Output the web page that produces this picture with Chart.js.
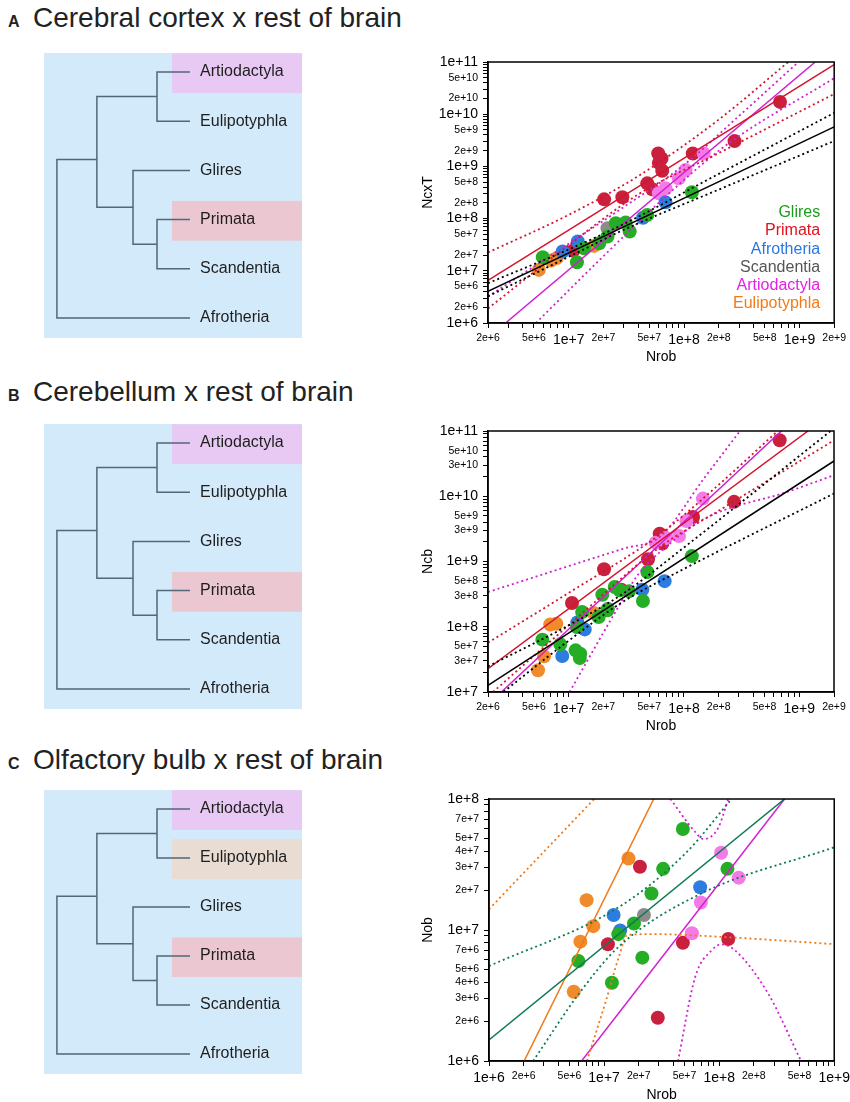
<!DOCTYPE html>
<html>
<head>
<meta charset="utf-8">
<script src="https://cdn.jsdelivr.net/npm/chart.js@4.4.1/dist/chart.umd.min.js"></script>
<style>
  html, body { margin: 0; background: #fff; }
  body { width: 850px; height: 1102px; position: relative; overflow: hidden;
         font-family: "Liberation Sans", Arial, sans-serif; color: #222; }
  .title { position: absolute; left: 8px; font-size: 28px; line-height: 34px; white-space: nowrap; }
  .title b { display: inline-block; width: 25px; font-size: 16px; }
  canvas { position: absolute; }
</style>
</head>
<body>
<div class="title" style="top:1px"><b>A</b>Cerebral cortex x rest of brain</div>
<div class="title" style="top:375px"><b>B</b>Cerebellum x rest of brain</div>
<div class="title" style="top:743px"><b>C</b>Olfactory bulb x rest of brain</div>

<canvas id="treeA" width="258" height="285" style="left:44px;top:53px"></canvas>
<canvas id="treeB" width="258" height="285" style="left:44px;top:424px"></canvas>
<canvas id="treeC" width="258" height="284" style="left:44px;top:790px"></canvas>
<canvas id="plotA" width="430" height="330" style="left:420px;top:40px"></canvas>
<canvas id="plotB" width="430" height="330" style="left:420px;top:409px"></canvas>
<canvas id="plotC" width="434" height="331" style="left:420px;top:777px"></canvas>

<script>
// ---- tree ----
const leaves = ["Artiodactyla", "Eulipotyphla", "Glires", "Primata", "Scandentia", "Afrotheria"];
// branch paths as [depth, row]
const treeBranches = [
  [[56.6, 0], [43.8, 0], [43.8, 1], [56.6, 1]],
  [[56.6, 3], [43.8, 3], [43.8, 4], [56.6, 4]],
  [[56.6, 2], [34.5, 2], [34.5, 3.5], [43.8, 3.5]],
  [[43.8, 0.5], [20.5, 0.5], [20.5, 2.75], [34.5, 2.75]],
  [[20.5, 1.78], [5.0, 1.78], [5.0, 5], [56.6, 5]],
];
const highlightsA = ["Artiodactyla", "Primata"];
const highlightsB = ["Artiodactyla", "Primata"];
const highlightsC = ["Artiodactyla", "Eulipotyphla", "Primata"];

// ---- tick labels ----
const xLabelsAB = [2e6, 5e6, 1e7, 2e7, 5e7, 1e8, 2e8, 5e8, 1e9, 2e9];
const yLabelsA = [1e6, 2e6, 5e6, 1e7, 2e7, 5e7, 1e8, 2e8, 5e8, 1e9, 2e9, 5e9, 1e10, 2e10, 5e10, 1e11];
const yLabelsB = [1e7, 3e7, 5e7, 1e8, 3e8, 5e8, 1e9, 3e9, 5e9, 1e10, 3e10, 5e10, 1e11];
const xLabelsC = [1e6, 2e6, 5e6, 1e7, 2e7, 5e7, 1e8, 2e8, 5e8, 1e9];
const yLabelsC = [1e6, 2e6, 3e6, 4e6, 5e6, 7e6, 1e7, 2e7, 3e7, 4e7, 5e7, 7e7, 1e8];

const taxa = ["Glires", "Primata", "Afrotheria", "Scandentia", "Artiodactyla", "Eulipotyphla"];

// ---- A: cerebral cortex (Nrob, NcxT) ----
const cortexGlires = [[5.97e6,1.82e7],[1.18e7,1.46e7],[1.36e7,2.71e7],[1.84e7,3.38e7],[2.17e7,4.53e7],[2.56e7,8.14e7],[3.12e7,8.4e7],[3.38e7,5.65e7],[4.8e7,1.17e8],[1.17e8,3.19e8]];
const cortexPrimata = [[1.10e7,2.45e7],[2.03e7,2.34e8],[2.92e7,2.56e8],[4.8e7,4.73e8],[5.3e7,3.64e8],[5.97e7,1.77e9],[6.38e7,1.42e9],[6.05e7,1.17e9],[6.47e7,8.26e8],[1.19e8,1.77e9],[2.74e8,3.05e9],[6.79e8,1.72e10]];
const cortexAfrotheria = [[8.87e6,2.34e7],[1.20e7,3.64e7],[4.41e7,1.04e8],[6.91e7,2.05e8]];
const cortexScandentia = [[2.17e7,6.54e7]];
const cortexArtiodactyla = [[6.05e7,3.05e8],[6.91e7,3.8e8],[9.0e7,5.9e8],[1.03e8,8.5e8],[1.48e8,1.77e9]];
const cortexEulipotyphla = [[5.51e6,1.04e7],[7.04e6,1.57e7],[7.87e6,1.75e7],[1.66e7,3.0e7]];

const cortexAllFit = [[2e6,4.03e6],[2e9,5.73e9]];
const cortexAllHi = [[2e6,5.8e6],[1e7,2.56e7],[3e7,7.85e7],[2e8,7.2e8],[2e9,1.06e10]];
const cortexAllLo = [[2e6,3.24e6],[1e7,1.85e7],[3e7,6.1e7],[2e8,3.6e8],[2e9,3.07e9]];
const cortexPrimFit = [[2e6,6.53e6],[2e9,8.9e10]];
const cortexPrimHi = [[2e6,2.24e7],[1e7,1.18e8],[4e7,6.5e8],[2e8,7.9e9],[8e8,1e11]];
const cortexPrimLo = [[2e6,1.9e6],[1e7,3.1e7],[4e7,2.9e8],[2e8,1.8e9],[2e9,2.44e10]];
const cortexArtFit = [[2.84e6,1e6],[1.37e9,1e11]];
const cortexArtHi = [[2e6,3.2e6],[2.75e7,1.46e8],[1e8,1.07e9],[3e8,9.3e9],[9.8e8,1e11]];
const cortexArtLo = [[5.2e6,1e6],[2e7,1.9e7],[8e7,3.55e8],[2.44e8,2.77e9],[2e9,4.9e10]];

// ---- B: cerebellum (Nrob, Ncb) ----
const cbGlires = [[5.92e6,6.34e7],[8.47e6,5.37e7],[1.15e7,4.35e7],[1.26e7,3.87e7],[1.25e7,3.32e7],[1.18e7,9.9e7],[1.31e7,1.68e8],[1.82e7,1.41e8],[1.96e7,3.1e8],[2.17e7,1.79e8],[2.51e7,4.07e8],[2.77e7,3.61e8],[3.34e7,3.49e8],[4.41e7,2.48e8],[4.82e7,6.9e8],[1.17e8,1.21e9]];
const cbPrimata = [[1.07e7,2.31e8],[2.03e7,7.6e8],[2.86e7,3.7e8],[4.88e7,1.08e9],[6.16e7,2.67e9],[6.58e7,2.43e9],[6.5e7,1.88e9],[1.2e8,4.8e9],[2.72e8,8.2e9],[6.76e8,7.2e10]];
const cbAfrotheria = [[8.81e6,3.56e7],[1.19e7,1.16e8],[1.38e7,9.1e7],[4.36e7,3.7e8],[6.8e7,5.0e8]];
const cbScandentia = [[2.19e7,1.89e8]];
const cbArtiodactyla = [[5.69e7,1.94e9],[6.95e7,2.29e9],[9.06e7,2.46e9],[1.05e8,4.18e9],[1.46e8,9.2e9]];
const cbEulipotyphla = [[5.43e6,2.15e7],[6.12e6,3.52e7],[6.93e6,1.08e8],[7.82e6,1.11e8],[1.65e7,1.63e8]];

const cbAllFit = [[2e6,1.26e7],[2e9,3.47e10]];
const cbAllHi = [[2e6,2.47e7],[1e7,1.05e8],[3e7,3.26e8],[1e8,1.64e9],[2e9,1.1e11]];
const cbAllLo = [[2e6,6.5e6],[1e7,6.1e7],[3e7,2.45e8],[1e8,7.7e8],[2e9,1.1e10]];
const cbPrimFit = [[2e6,2.28e7],[1.19e9,1e11]];
const cbPrimHi = [[2e6,5.7e7],[1e7,3.3e8],[6e7,2.5e9],[2e8,1.5e10],[6.5e8,1e11]];
const cbPrimLo = [[2.21e6,1e7],[1e7,1.05e8],[6e7,1.6e9],[2e8,6e9],[2e9,7.2e10]];
const cbArtFit = [[2.61e6,1e7],[7.0e8,1e11]];
const cbArtHi = [[2e6,3.4e8],[1e7,8.5e8],[3e7,1.58e9],[6.2e7,2.4e9],[1.5e8,1.9e10],[3.06e8,1e11]];
const cbArtLo = [[1.02e7,1e7],[2.5e7,1.6e8],[4e7,6.3e8],[6.5e7,1.5e9],[1.5e8,4.5e9],[7.8e8,1.16e10],[2e9,2.1e10]];

// ---- C: olfactory bulb (Nrob, Nob) ----
const obGlires = [[5.98e6,5.8e6],[1.17e7,3.96e6],[1.33e7,9.3e6],[1.82e7,1.12e7],[2.15e7,6.15e6],[2.58e7,1.9e7],[3.26e7,2.93e7],[4.84e7,5.9e7],[1.18e8,2.93e7]];
const obPrimata = [[1.08e7,7.78e6],[2.05e7,3.04e7],[2.93e7,2.14e6],[4.84e7,8.0e6],[1.2e8,8.53e6]];
const obAfrotheria = [[1.21e7,1.3e7],[1.38e7,9.9e6],[6.84e7,2.12e7]];
const obScandentia = [[2.22e7,1.3e7]];
const obArtiodactyla = [[5.8e7,9.44e6],[6.93e7,1.62e7],[1.04e8,3.89e7],[1.48e8,2.51e7]];
const obEulipotyphla = [[5.45e6,3.38e6],[6.22e6,8.15e6],[7.05e6,1.69e7],[8.05e6,1.07e7],[1.63e7,3.51e7]];

const obAllFit = [[1e6,1.45e6],[3.7e8,1e8]];
const obAllHi = [[1e6,5.3e6],[1.35e7,1.5e7],[5.1e7,3.85e7],[1.28e8,1e8]];
const obAllLo = [[2.42e6,1e6],[6.1e6,3.3e6],[1.35e7,7.5e6],[7e7,1.9e7],[1e9,4.28e7]];
const obEuliFit = [[2.02e6,1e6],[2.7e7,1e8]];
const obEuliHi = [[1e6,1.44e7],[8.2e6,1e8]];
const obEuliLo = [[7.1e6,1e6],[1.04e7,2.9e6],[1.35e7,6.3e6],[1.59e7,9.16e6],[2.62e7,9.3e6],[1.2e8,8.8e6],[1e9,7.8e6]];
const obArtFit = [[6.38e6,1e6],[3.7e8,1e8]];
const obArtTop = [[3.77e7,1e8],[6.2e7,5.6e7],[7.3e7,4.95e7],[9.8e7,6.0e7],[1.2e8,1e8]];
const obArtBottom = [[4.39e7,1e6],[6.2e7,4.4e6],[8.6e7,7.0e6],[1.05e8,7.78e6],[1.37e8,7.0e6],[2.65e8,3.3e6],[5.15e8,1e6]];

// ---- styles ----
const FONT = '"Liberation Sans", Arial, sans-serif';
Chart.defaults.font.family = FONT;
Chart.defaults.color = "#000";

const pointColors = {
  Glires: "#25ad25", Primata: "#c9213d", Afrotheria: "#2d7ddf",
  Scandentia: "#8c8c8c", Artiodactyla: "#f47ae8", Eulipotyphla: "#f08a2a",
};
const legendColors = {
  Glires: "#1c9c1c", Primata: "#e3101e", Afrotheria: "#2878e2",
  Scandentia: "#555555", Artiodactyla: "#e61ee6", Eulipotyphla: "#f47a18",
};
const RED = "#d5142c", MAGENTA = "#d21fd2", BLACK = "#000", GREEN = "#0b7a55", ORANGE = "#f07814";

const xy = (arr) => arr.map(([x, y]) => ({ x, y }));

function pointSets(series) {
  return series.map(([name, arr]) => ({
    label: name,
    data: xy(arr),
    backgroundColor: pointColors[name],
    pointRadius: 7,
    pointHoverRadius: 7,
    pointBorderWidth: 0,
    showLine: false,
    order: 2,
  }));
}

function lineSet(arr, color, dotted, curved) {
  return {
    data: xy(arr),
    showLine: true,
    borderColor: color,
    borderWidth: dotted ? 1.8 : 1.5,
    borderDash: dotted ? [2, 3] : [],
    pointRadius: 0,
    cubicInterpolationMode: curved ? "monotone" : "default",
    fill: false,
    order: 1,
  };
}

function isPow10(v) {
  const l = Math.log10(v);
  return Math.abs(l - Math.round(l)) < 1e-6;
}
function inList(v, list) {
  return list.some((t) => Math.abs(t - v) / t < 1e-6);
}
function allLogTicks(min, max) {
  const out = [];
  for (let k = Math.floor(Math.log10(min)); k <= Math.ceil(Math.log10(max)); k++) {
    for (let d = 1; d <= 9; d++) {
      const v = d * Math.pow(10, k);
      if (v >= min * 0.9999 && v <= max * 1.0001) out.push(v);
    }
  }
  return out;
}

function logAxis(min, max, labels, title, horizontal, size) {
  return {
    type: "logarithmic",
    min, max,
    afterBuildTicks: (s) => { s.ticks = allLogTicks(min, max).map((v) => ({ value: v })); },
    afterFit: (s) => { if (horizontal) s.height = size; else s.width = size; },
    ticks: {
      autoSkip: false, maxRotation: 0, minRotation: 0,
      padding: horizontal ? 4 : 5,
      color: "#000",
      callback: (v) => (inList(v, labels) ? Number(v).toExponential(0) : ""),
      font: (c) => ({ size: c.tick && isPow10(c.tick.value) ? 14 : 10.5, family: FONT }),
    },
    grid: { drawOnChartArea: false, drawTicks: true, tickLength: 5, color: "#000", lineWidth: 1 },
    border: { display: true, color: "#000", width: 1.5 },
    title: {
      display: true, text: title, color: "#000",
      font: { size: 14, family: FONT },
      padding: horizontal ? { top: 0, bottom: 4 } : { top: 0, bottom: 0 },
    },
  };
}

const framePlugin = {
  id: "frame",
  afterDraw(chart) {
    const { ctx, chartArea: a } = chart;
    ctx.save();
    ctx.strokeStyle = "#000";
    ctx.lineWidth = 1.5;
    ctx.strokeRect(a.left, a.top, a.right - a.left, a.bottom - a.top);
    ctx.restore();
  },
};

const legendPlugin = {
  id: "taxonLegend",
  afterDatasetsDraw(chart, args, opts) {
    if (!opts.items || !opts.items.length) return;
    const { ctx, chartArea: a } = chart;
    ctx.save();
    ctx.font = "16px " + FONT;
    ctx.textAlign = "right";
    ctx.textBaseline = "middle";
    const n = opts.items.length;
    opts.items.forEach((name, i) => {
      ctx.fillStyle = legendColors[name];
      ctx.fillText(name, a.right - 14, a.bottom - 19 - (n - 1 - i) * 18.3);
    });
    ctx.restore();
  },
};

function makePlot(id, cfg) {
  new Chart(document.getElementById(id), {
    type: "scatter",
    data: { datasets: [...cfg.lines, ...pointSets(cfg.series)] },
    options: {
      responsive: false,
      animation: false,
      events: [],
      layout: { padding: { top: 22, right: cfg.rightPad, left: 0, bottom: 0 } },
      scales: {
        x: logAxis(cfg.xMin, cfg.xMax, cfg.xLabels, "Nrob", true, 47),
        y: logAxis(cfg.yMin, cfg.yMax, cfg.yLabels, cfg.yTitle, false, cfg.yAxisWidth),
      },
      plugins: {
        legend: { display: false },
        tooltip: { enabled: false },
        taxonLegend: { items: cfg.legend || [] },
      },
    },
    plugins: [framePlugin, legendPlugin],
  });
}

makePlot("plotA", {
  xMin: 2e6, xMax: 2e9, yMin: 1e6, yMax: 1e11,
  xLabels: xLabelsAB, yLabels: yLabelsA, yTitle: "NcxT",
  rightPad: 14, yAxisWidth: 68, legend: taxa,
  series: [["Glires", cortexGlires], ["Afrotheria", cortexAfrotheria], ["Scandentia", cortexScandentia],
           ["Eulipotyphla", cortexEulipotyphla], ["Artiodactyla", cortexArtiodactyla], ["Primata", cortexPrimata]],
  lines: [
    lineSet(cortexAllFit, BLACK, false), lineSet(cortexAllHi, BLACK, true, true), lineSet(cortexAllLo, BLACK, true, true),
    lineSet(cortexPrimFit, RED, false), lineSet(cortexPrimHi, RED, true, true), lineSet(cortexPrimLo, RED, true, true),
    lineSet(cortexArtFit, MAGENTA, false), lineSet(cortexArtHi, MAGENTA, true, true), lineSet(cortexArtLo, MAGENTA, true, true),
  ],
});

makePlot("plotB", {
  xMin: 2e6, xMax: 2e9, yMin: 1e7, yMax: 1e11,
  xLabels: xLabelsAB, yLabels: yLabelsB, yTitle: "Ncb",
  rightPad: 16, yAxisWidth: 68,
  series: [["Glires", cbGlires], ["Afrotheria", cbAfrotheria], ["Scandentia", cbScandentia],
           ["Eulipotyphla", cbEulipotyphla], ["Artiodactyla", cbArtiodactyla], ["Primata", cbPrimata]],
  lines: [
    lineSet(cbAllFit, BLACK, false), lineSet(cbAllHi, BLACK, true, true), lineSet(cbAllLo, BLACK, true, true),
    lineSet(cbPrimFit, RED, false), lineSet(cbPrimHi, RED, true, true), lineSet(cbPrimLo, RED, true, true),
    lineSet(cbArtFit, MAGENTA, false), lineSet(cbArtHi, MAGENTA, true, true), lineSet(cbArtLo, MAGENTA, true, true),
  ],
});

makePlot("plotC", {
  xMin: 1e6, xMax: 1e9, yMin: 1e6, yMax: 1e8,
  xLabels: xLabelsC, yLabels: yLabelsC, yTitle: "Nob",
  rightPad: 17, yAxisWidth: 69,
  series: [["Glires", obGlires], ["Afrotheria", obAfrotheria], ["Scandentia", obScandentia],
           ["Eulipotyphla", obEulipotyphla], ["Artiodactyla", obArtiodactyla], ["Primata", obPrimata]],
  lines: [
    lineSet(obAllFit, GREEN, false), lineSet(obAllHi, GREEN, true, true), lineSet(obAllLo, GREEN, true, true),
    lineSet(obEuliFit, ORANGE, false), lineSet(obEuliHi, ORANGE, true, true), lineSet(obEuliLo, ORANGE, true, true),
    lineSet(obArtFit, MAGENTA, false), lineSet(obArtTop, MAGENTA, true, true), lineSet(obArtBottom, MAGENTA, true, true),
  ],
});

// ---- trees ----
const highlightColors = { Artiodactyla: "#e8c9f3", Primata: "#ebc8d1", Eulipotyphla: "#e8dcd3" };

const treePlugin = {
  id: "treeDecor",
  beforeDatasetsDraw(chart, args, opts) {
    const { ctx, chartArea: a, scales: { x, y } } = chart;
    ctx.save();
    ctx.fillStyle = "#d3eafb";
    ctx.fillRect(a.left, a.top, a.right - a.left, a.bottom - a.top);
    opts.highlights.forEach((name) => {
      const row = leaves.indexOf(name);
      const x0 = x.getPixelForValue(49.6), x1 = x.getPixelForValue(100);
      const y0 = y.getPixelForValue(row - 0.38), y1 = y.getPixelForValue(row + 0.43);
      ctx.fillStyle = highlightColors[name];
      ctx.fillRect(x0, y0, x1 - x0, y1 - y0);
    });
    ctx.restore();
  },
  afterDatasetsDraw(chart) {
    const { ctx, scales: { x, y } } = chart;
    ctx.save();
    ctx.font = "16px " + FONT;
    ctx.fillStyle = "#1e1e1e";
    ctx.textAlign = "left";
    ctx.textBaseline = "middle";
    leaves.forEach((name, row) => ctx.fillText(name, x.getPixelForValue(60.5), y.getPixelForValue(row)));
    ctx.restore();
  },
};

function makeTree(id, highlights) {
  new Chart(document.getElementById(id), {
    type: "scatter",
    data: {
      datasets: treeBranches.map((path) => ({
        data: path.map(([d, r]) => ({ x: d, y: r })),
        showLine: true,
        borderColor: "#52677a",
        borderWidth: 1.5,
        pointRadius: 0,
        tension: 0,
      })),
    },
    options: {
      responsive: false,
      animation: false,
      events: [],
      layout: { padding: 0 },
      scales: {
        x: { type: "linear", min: 0, max: 100, display: false },
        y: { type: "linear", min: -0.386, max: 5.407, reverse: true, display: false },
      },
      plugins: { legend: { display: false }, tooltip: { enabled: false }, treeDecor: { highlights } },
    },
    plugins: [treePlugin],
  });
}

makeTree("treeA", highlightsA);
makeTree("treeB", highlightsB);
makeTree("treeC", highlightsC);
</script>
</body>
</html>
